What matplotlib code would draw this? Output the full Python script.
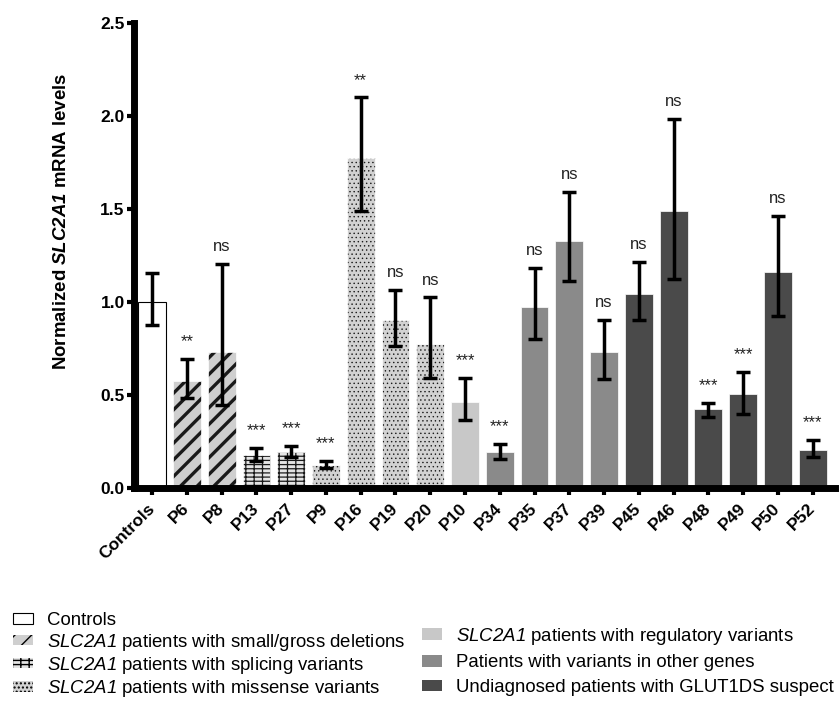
import matplotlib
matplotlib.use("Agg")
import matplotlib.pyplot as plt
from matplotlib.patches import Patch
import numpy as np

plt.rcParams['font.family'] = ['Liberation Sans', 'DejaVu Sans']
plt.rcParams['mathtext.fontset'] = 'custom'
plt.rcParams['mathtext.bf'] = 'Liberation Sans:style=italic:weight=bold'
plt.rcParams['mathtext.sf'] = 'Liberation Sans:style=italic'
plt.rcParams['mathtext.rm'] = 'Liberation Sans'
plt.rcParams['hatch.color'] = 'black'

# data
names = ['Controls', 'P6', 'P8', 'P13', 'P27', 'P9', 'P16', 'P19', 'P20', 'P10',
         'P34', 'P35', 'P37', 'P39', 'P45', 'P46', 'P48', 'P49', 'P50', 'P52']
means = [1.00, 0.575, 0.733, 0.176, 0.194, 0.124, 1.776, 0.903, 0.774, 0.462,
         0.194, 0.971, 1.33, 0.733, 1.043, 1.491, 0.423, 0.504, 1.163, 0.204]
upper = [1.158, 0.695, 1.204, 0.217, 0.227, 0.147, 2.10, 1.065, 1.025, 0.593,
         0.235, 1.185, 1.593, 0.903, 1.215, 1.984, 0.459, 0.625, 1.464, 0.258]
lower = [0.874, 0.482, 0.444, 0.145, 0.168, 0.106, 1.49, 0.763, 0.59, 0.365,
         0.154, 0.80, 1.113, 0.584, 0.903, 1.124, 0.384, 0.40, 0.923, 0.168]
sig = ['', '**', 'ns', '***', '***', '***', '**', 'ns', 'ns', '***',
       '***', 'ns', 'ns', 'ns', 'ns', 'ns', '***', '***', 'ns', '***']
group = ['ctrl', 'del', 'del', 'spl', 'spl', 'mis', 'mis', 'mis', 'mis', 'reg',
         'oth', 'oth', 'oth', 'oth', 'und', 'und', 'und', 'und', 'und', 'und']

group_labels = {
    'ctrl': 'Controls',
    'del': r'$\mathsf{SLC2A1}$ patients with small/gross deletions',
    'spl': r'$\mathsf{SLC2A1}$ patients with splicing variants',
    'mis': r'$\mathsf{SLC2A1}$ patients with missense variants',
    'reg': r'$\mathsf{SLC2A1}$ patients with regulatory variants',
    'oth': 'Patients with variants in other genes',
    'und': 'Undiagnosed patients with GLUT1DS suspect',
}
styles = {
    'ctrl': dict(facecolor='white', hatch=None, hlw=1.0),
    'del': dict(facecolor='#cfcfcf', hatch='//', hlw=2.4),
    'spl': dict(facecolor='#e4e4e4', hatch='----||', hlw=0.9),
    'mis': dict(facecolor='#d2d2d2', hatch='....', hlw=0.5),
    'reg': dict(facecolor='#c8c8c8', hatch=None, hlw=1.0),
    'oth': dict(facecolor='#8a8a8a', hatch=None, hlw=1.0),
    'und': dict(facecolor='#4a4a4a', hatch=None, hlw=1.0),
}

fig = plt.figure(figsize=(8.4, 7.03), dpi=100)
ax = fig.add_axes([0.160, 0.3058, 0.8344, 0.6615])

x = np.arange(len(names))
means = np.array(means)
yerr = np.array([means - np.array(lower), np.array(upper) - means])

for i in range(len(names)):
    st = styles[group[i]]
    ctrl = group[i] == 'ctrl'
    with plt.rc_context({'hatch.linewidth': st['hlw']}):
        b = ax.bar(x[i], means[i], width=0.8, facecolor=st['facecolor'],
                   edgecolor='black' if ctrl else 'white',
                   linewidth=0.8 if ctrl else 0.5,
                   hatch=st['hatch'], zorder=2)
        if st['hatch']:
            b[0]._hatch_color = (0.1, 0.1, 0.1, 1)

ax.errorbar(x, means, yerr=yerr, fmt='none', ecolor='black', elinewidth=2.5,
            capsize=5, capthick=2.5, zorder=3)

for i in range(len(names)):
    if sig[i]:
        ax.annotate(sig[i], (x[i], upper[i]), xytext=(0, 7), textcoords='offset points',
                    ha='center', va='bottom', fontsize=12, color='#222222')

ax.set_xlim(-0.51, 19.65)
ax.set_ylim(0, 2.5)
ax.set_yticks([0.0, 0.5, 1.0, 1.5, 2.0, 2.5])
ax.set_yticklabels(['0.0', '0.5', '1.0', '1.5', '2.0', '2.5'], fontweight='bold', fontsize=12.5)
ax.set_xticks(x)
ax.set_xticklabels(names, rotation=45, ha='right', va='center', rotation_mode='anchor',
                   fontweight='bold', fontsize=12.5)
ax.tick_params(axis='both', direction='out', width=3, length=5, pad=2)
ax.tick_params(axis='x', pad=8)
for side in ['top', 'right']:
    ax.spines[side].set_visible(False)
for side in ['left', 'bottom']:
    ax.spines[side].set_linewidth(5)
ax.set_ylabel(r'Normalized $\mathbf{SLC2A1}$ mRNA levels', fontweight='bold', fontsize=13.4)
ax.yaxis.set_label_coords(-0.092, 0.574)

left_groups = ['ctrl', 'del', 'spl', 'mis']
right_groups = ['reg', 'oth', 'und']


def handles_for(gs):
    hs = []
    for g in gs:
        st = styles[g]
        with plt.rc_context({'hatch.linewidth': min(st['hlw'], 1.6)}):
            p = Patch(facecolor=st['facecolor'], edgecolor='black',
                      hatch=st['hatch'], linewidth=0.8 if g == 'ctrl' else 0,
                      label=group_labels[g])
        hs.append(p)
    return hs


leg1 = fig.legend(handles=handles_for(left_groups), loc='upper left',
                  bbox_to_anchor=(0.0155, 0.129), frameon=False, fontsize=13.4,
                  handlelength=1.1, handleheight=0.5, handletextpad=0.75,
                  labelspacing=0.12, borderpad=0, borderaxespad=0)
leg2 = fig.legend(handles=handles_for(right_groups), loc='upper left',
                  bbox_to_anchor=(0.502, 0.110), frameon=False, fontsize=13.4,
                  handlelength=1.1, handleheight=0.55, handletextpad=0.75,
                  labelspacing=0.42, borderpad=0, borderaxespad=0)

fig.savefig('out.png', dpi=100)
